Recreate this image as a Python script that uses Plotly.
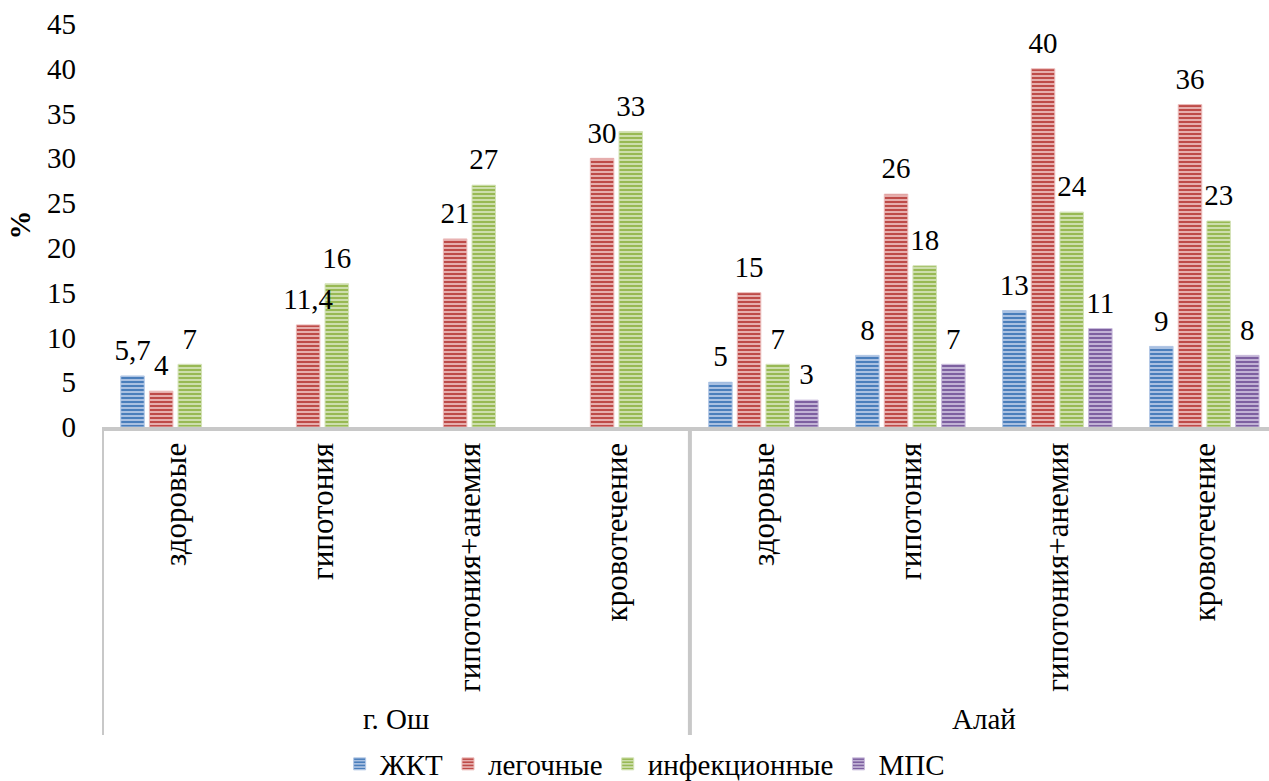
import plotly.graph_objects as go

# Groups and conditions
groups = ["г. Ош", "Алай"]
conditions = ["здоровые", "гипотония", "гипотония+анемия", "кровотечение"]

# Series values (%), Ош first then Алай; None = no data
series_names = ["ЖКТ", "легочные", "инфекционные", "МПС"]
zhkt = [5.7, None, None, None, 5, 8, 13, 9]
legochnye = [4, 11.4, 21, 30, 15, 26, 40, 36]
infektsionnye = [7, 16, 27, 33, 7, 18, 24, 23]
mps = [None, None, None, None, 3, 7, 11, 8]

y_ticks = [0, 5, 10, 15, 20, 25, 30, 35, 40, 45]

colors = ["#4a7ebb", "#be4b48", "#98b954", "#7d60a0"]
light = ["#b3c8e6", "#ebb9b8", "#d3e2b6", "#c9bbdb"]

FONT = "Times New Roman, Liberation Serif, DejaVu Serif, serif"

x_keys = [f"{g} | {c}" for g in groups for c in conditions]
all_series = [zhkt, legochnye, infektsionnye, mps]


def fmt(v):
    if v is None:
        return None
    return f"{v:g}".replace(".", ",")


fig = go.Figure()
for name, vals, col, lt in zip(series_names, all_series, colors, light):
    fig.add_trace(go.Bar(
        name=name,
        x=x_keys,
        y=vals,
        offsetgroup=name,
        marker=dict(
            color=col,
            line=dict(color=lt, width=1),
            pattern=dict(shape="-", size=4, solidity=0.55, fgcolor=col, bgcolor=lt, fillmode="replace"),
        ),
    ))

# value labels: text-only scatter traces grouped like the bars,
# an invisible marker lifts each label a little above its bar
for name, vals in zip(series_names, all_series):
    fig.add_trace(go.Scatter(
        x=x_keys, y=vals, mode="markers+text",
        text=[fmt(v) for v in vals], textposition="top center",
        textfont=dict(family=FONT, size=29, color="black"),
        marker=dict(size=12, opacity=0),
        offsetgroup=name, showlegend=False, hoverinfo="skip", cliponaxis=False,
    ))

annotations = []
# inner category labels, rotated
for k, key in enumerate(x_keys):
    annotations.append(dict(
        x=k, y=0, xref="x", yref="paper", yshift=-14,
        text=conditions[k % 4], textangle=-90, showarrow=False,
        xanchor="center", yanchor="top",
        font=dict(family=FONT, size=31, color="black"),
    ))
# group labels
for gi, g in enumerate(groups):
    annotations.append(dict(
        x=gi * 4 + 1.5, y=-(719 - 427) / 403, xref="x", yref="paper",
        text=g, showarrow=False, xanchor="center", yanchor="middle",
        font=dict(family=FONT, size=29, color="black"),
    ))
# y-axis title
annotations.append(dict(
    x=-(102 - 19) / 1167, y=0.5, xref="paper", yref="paper",
    text="<b>%</b>", textangle=-90, showarrow=False,
    xanchor="center", yanchor="middle",
    font=dict(family=FONT, size=29, color="black"),
))

shapes = []
for xv in [-0.5, 3.5]:
    shapes.append(dict(
        type="line", x0=xv, x1=xv, xref="x", y0=0, y1=-(735 - 427) / 403, yref="paper",
        line=dict(color="#c8c8c8", width=4),
    ))

fig.update_layout(
    width=1269, height=781,
    margin=dict(l=102, r=0, t=24, b=354),
    paper_bgcolor="white", plot_bgcolor="white",
    barmode="group", bargap=0.22, bargroupgap=0.18,
    scattermode="group", scattergap=0.22,
    font=dict(family=FONT, size=29, color="black"),
    xaxis=dict(
        type="category", range=[-0.5, 7.44], showticklabels=False, showgrid=False,
        showline=True, linecolor="#c8c8c8", linewidth=4, ticks="", zeroline=False,
    ),
    yaxis=dict(
        range=[0, 45], tickvals=y_ticks, showgrid=False, showline=False, zeroline=False,
        ticks="", ticklabelstandoff=25, tickfont=dict(family=FONT, size=29, color="black"),
    ),
    legend=dict(
        orientation="h", xref="container", yref="container",
        x=0.508, y=1 - 764 / 781, xanchor="center", yanchor="middle",
        font=dict(family=FONT, size=29, color="black"), itemwidth=30,
        traceorder="normal",
    ),
    annotations=annotations,
    shapes=shapes,
)

fig.write_html("out.html")
